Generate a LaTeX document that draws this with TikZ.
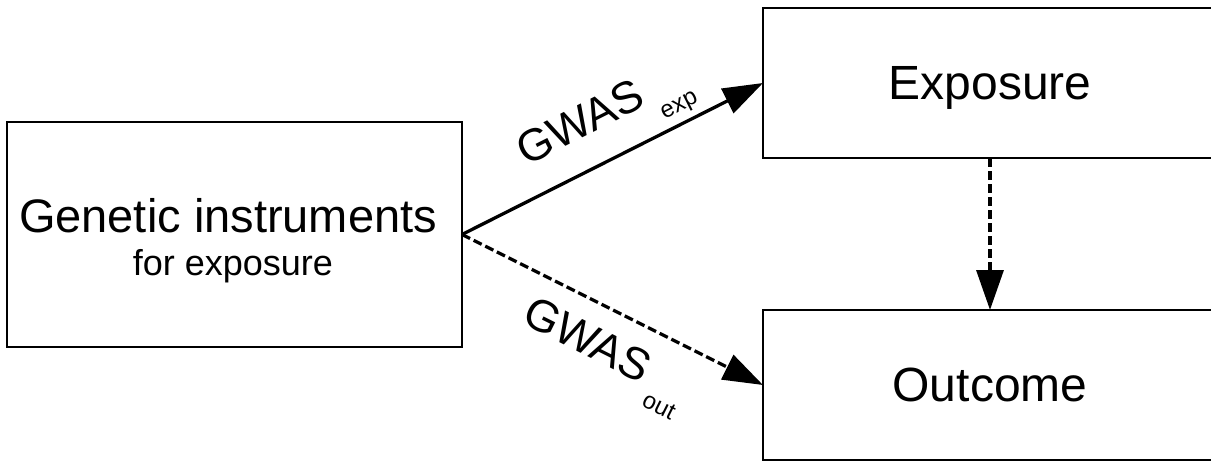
\documentclass[tikz,border=0pt]{standalone}
\usepackage{fontspec}
\setmainfont{Liberation Sans}
\usetikzlibrary{arrows.meta,calc}
\begin{document}
\begin{tikzpicture}[x=1pt,y=-1pt,
  box/.style={draw, line width=2.2pt, inner sep=0pt, outer sep=0pt},
  rbox/.style={box, minimum width=454pt, minimum height=150pt, text depth=0pt,
    font=\fontsize{48}{48}\selectfont},
  link/.style={line width=3.3pt, -{Triangle[length=40pt,width=27pt]}},
  dashlink/.style={link, dash pattern=on 9pt off 4pt},
  gwas/.style={sloped, anchor=base west, inner sep=0pt}
]
\useasboundingbox (0,0) rectangle (1211,461);

\node[box, minimum width=455pt, minimum height=225pt] (gi) at (234.5,234.5) {};
\node[anchor=base, inner sep=0pt, font=\fontsize{47}{47}\selectfont] (gil1) at (228,232) {Genetic instruments};
\node[anchor=base, inner sep=0pt, font=\fontsize{36}{36}\selectfont] (gil2) at (233,275) {for exposure};

\node[rbox] (exp) at (990,83) {Exposure};
\node[rbox] (out) at (990,385) {Outcome};

\draw[link] (gi.east) -- node[gwas, pos=0.256, yshift=32pt]
  {{\fontsize{45}{45}\selectfont GWAS}\hspace{9pt}\raisebox{-20pt}{\fontsize{24}{24}\selectfont exp}} (exp.west);
\draw[dashlink] (gi.east) -- node[gwas, pos=0.267, yshift=-53pt]
  {{\fontsize{45}{45}\selectfont GWAS}\hspace{9pt}\raisebox{-20pt}{\fontsize{24}{24}\selectfont out}} (out.west);
\draw[dashlink] (exp.south) -- (out.north);
\end{tikzpicture}
\end{document}
